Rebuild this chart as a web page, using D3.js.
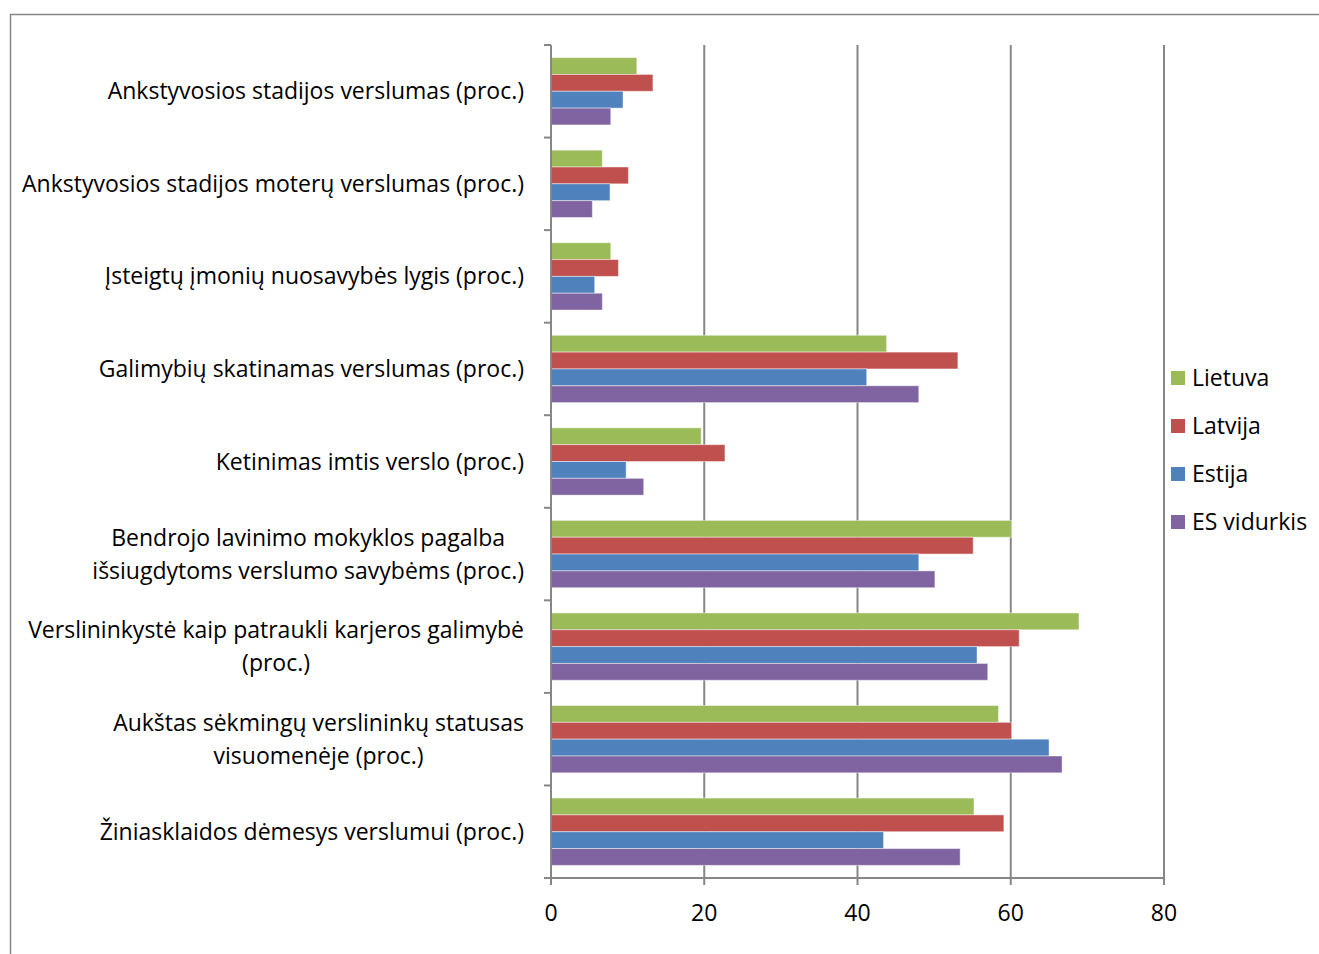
<!DOCTYPE html>
<html><head><meta charset="utf-8">
<script src="https://cdn.jsdelivr.net/npm/d3@7"></script>
<style>body{margin:0;background:#fff}svg{display:block}text{font-variant-ligatures:none}</style>
</head><body><svg id="c" width="1319" height="954"></svg>
<script>
const categories = [
  ["Ankstyvosios stadijos verslumas (proc.)"],
  ["Ankstyvosios stadijos moterų verslumas (proc.)"],
  ["Įsteigtų įmonių nuosavybės lygis (proc.)"],
  ["Galimybių skatinamas verslumas (proc.)"],
  ["Ketinimas imtis verslo (proc.)"],
  ["Bendrojo lavinimo mokyklos pagalba", "išsiugdytoms verslumo savybėms (proc.)"],
  ["Verslininkystė kaip patraukli karjeros galimybė", "(proc.)"],
  ["Aukštas sėkmingų verslininkų statusas", "visuomenėje (proc.)"],
  ["Žiniasklaidos dėmesys verslumui (proc.)"]
];
const seriesNames = ["Lietuva", "Latvija", "Estija", "ES vidurkis"];
const lietuva = [11.2, 6.7, 7.8, 43.8, 19.6, 60.1, 68.9, 58.4, 55.2];
const latvija = [13.3, 10.1, 8.8, 53.1, 22.7, 55.1, 61.1, 60.1, 59.1];
const estija  = [9.4, 7.7, 5.7, 41.2, 9.8, 48.0, 55.6, 65.0, 43.4];
const esVid   = [7.8, 5.4, 6.7, 48.0, 12.1, 50.1, 57.0, 66.7, 53.4];
const xTicks = [0, 20, 40, 60, 80];
const colors = ["#9BBB59", "#C0504D", "#4F81BD", "#8064A2"];

const seriesVals = [lietuva, latvija, estija, esVid];
const svg = d3.select("#c");
const font = "'Open Sans', sans-serif";
const fs = 23;
const grey = "#868686";

// outer frame
svg.append("rect").attr("x", 10.5).attr("y", 14.5).attr("width", 1400).attr("height", 1000)
  .attr("fill", "none").attr("stroke", grey).attr("stroke-width", 1.5);

const x = d3.scaleLinear().domain([0, 80]).range([551, 1164]);
const y = d3.scaleBand().domain(d3.range(categories.length)).range([45, 878]);
const bw = y.bandwidth() / 5.5;
const inner = d3.scaleBand().domain(d3.range(4)).range([0, 4 * bw]);

// gridlines
svg.append("g").selectAll("line").data(xTicks.slice(1)).join("line")
  .attr("x1", d => x(d)).attr("x2", d => x(d)).attr("y1", 45).attr("y2", 878)
  .attr("stroke", grey).attr("stroke-width", 2);

// bars
categories.forEach((c, i) => {
  const g = svg.append("g").attr("transform", `translate(0,${y(i) + 0.75 * bw})`);
  g.selectAll("rect").data(seriesVals.map((s, k) => ({k, v: s[i]}))).join("rect")
    .attr("x", x(0)).attr("y", d => inner(d.k))
    .attr("width", d => x(d.v) - x(0)).attr("height", inner.bandwidth())
    .attr("fill", d => colors[d.k])
    .attr("stroke", "rgba(255,255,255,0.45)").attr("stroke-width", 1);
});

// y axis
svg.append("line").attr("x1", 551).attr("x2", 551).attr("y1", 45).attr("y2", 878)
  .attr("stroke", grey).attr("stroke-width", 2);
svg.append("g").selectAll("line").data(d3.range(categories.length + 1)).join("line")
  .attr("x1", 544).attr("x2", 551)
  .attr("y1", d => d < categories.length ? y(d) : 878).attr("y2", d => d < categories.length ? y(d) : 878)
  .attr("stroke", grey).attr("stroke-width", 2);

// x axis
svg.append("line").attr("x1", 544).attr("x2", 1164).attr("y1", 878).attr("y2", 878)
  .attr("stroke", grey).attr("stroke-width", 2);
svg.append("g").selectAll("line").data(xTicks).join("line")
  .attr("x1", d => x(d)).attr("x2", d => x(d)).attr("y1", 878).attr("y2", 885)
  .attr("stroke", grey).attr("stroke-width", 2);
svg.append("g").selectAll("text").data(xTicks).join("text")
  .attr("x", d => x(d)).attr("y", 913).attr("dy", "0.35em").attr("text-anchor", "middle")
  .attr("font-family", font).attr("font-size", fs).attr("fill", "#000").text(d => d);

// category labels
categories.forEach((lines, i) => {
  const cy = y(i) + y.bandwidth() / 2;
  const t = svg.append("text").attr("font-family", font).attr("font-size", fs).attr("fill", "#000");
  const n = lines.length;
  lines.forEach((ln, j) => {
    t.append("tspan").attr("y", cy + (j - (n - 1) / 2) * 33).attr("dy", "0.35em").text(ln);
  });
  const tsp = t.selectAll("tspan").nodes();
  const widths = tsp.map(n => n.getComputedTextLength());
  const maxW = d3.max(widths);
  const center = 524 - maxW / 2;
  tsp.forEach((n) => { d3.select(n).attr("x", center).attr("text-anchor", "middle"); });
});

// legend
seriesNames.forEach((name, k) => {
  const ly = 378 + k * 48;
  svg.append("rect").attr("x", 1171).attr("y", ly - 7).attr("width", 14).attr("height", 14).attr("fill", colors[k]);
  svg.append("text").attr("x", 1192).attr("y", ly).attr("dy", "0.35em")
    .attr("font-family", font).attr("font-size", fs).attr("fill", "#000").text(name);
});
</script></body></html>
